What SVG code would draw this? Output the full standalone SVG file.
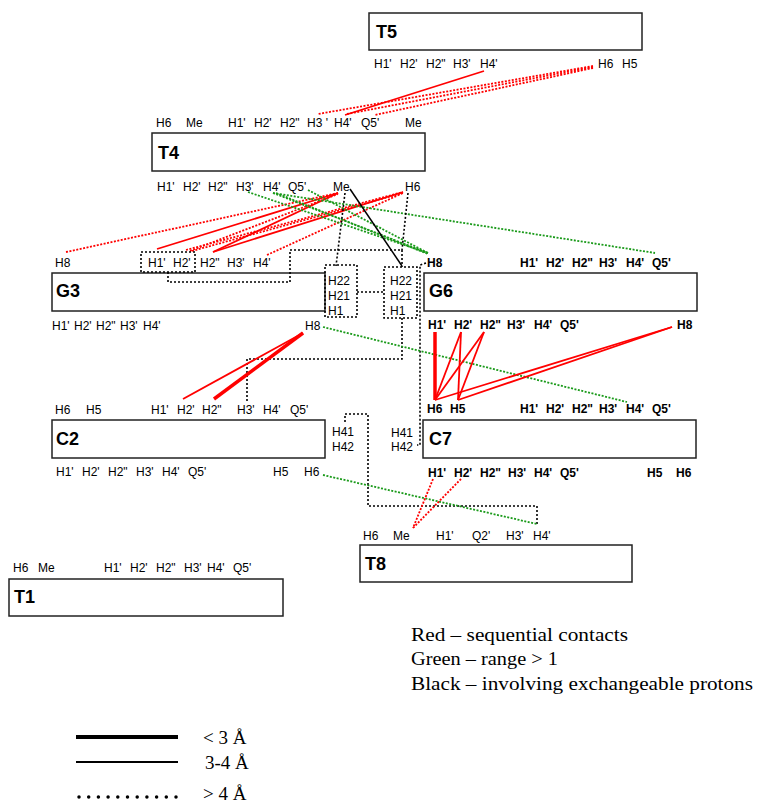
<svg xmlns="http://www.w3.org/2000/svg" width="757" height="805" viewBox="0 0 757 805">
<style>
.lb{font-family:"Liberation Sans",Arial,sans-serif;font-size:12px;fill:#000}
.lbb{font-family:"Liberation Sans",Arial,sans-serif;font-size:12px;font-weight:bold;fill:#000}
.ttl{font-family:"Liberation Sans",Arial,sans-serif;font-size:18px;font-weight:bold;fill:#000}
.box{fill:#fff;stroke:#222;stroke-width:1.5}
.leg{font-family:"Liberation Serif","Times New Roman",serif;font-size:19px;fill:#000}
.rs{stroke:#f00;stroke-width:1.8;fill:none}
.rt{stroke:#f00;stroke-width:3.5;fill:none}
.rd{stroke:#f00;stroke-width:1.8;stroke-dasharray:2 1.5;fill:none}
.gd{stroke:#1a9a1a;stroke-width:1.8;stroke-dasharray:2 1.5;fill:none}
.ks{stroke:#000;stroke-width:1.5;fill:none}
.kd{stroke:#000;stroke-width:1.6;stroke-dasharray:2 2;fill:none}
</style>
<rect width="757" height="805" fill="#fff"/>

<g id="T5">
<rect class="box" x="369" y="13" width="273" height="37"/>
<text class="ttl" x="376" y="38">T5</text>
<text class="lb" y="68"><tspan x="374">H1'</tspan><tspan x="400">H2'</tspan><tspan x="426">H2"</tspan><tspan x="453">H3'</tspan><tspan x="480">H4'</tspan><tspan x="598">H6</tspan><tspan x="622">H5</tspan></text>
</g>

<g id="T4">
<rect class="box" x="152" y="133" width="273" height="38"/>
<text class="ttl" x="158" y="159">T4</text>
<text class="lb" y="127"><tspan x="156">H6</tspan><tspan x="186">Me</tspan><tspan x="228">H1'</tspan><tspan x="254">H2'</tspan><tspan x="280">H2"</tspan><tspan x="307">H3 '</tspan><tspan x="334">H4'</tspan><tspan x="361">Q5'</tspan><tspan x="405">Me</tspan></text>
<text class="lb" y="191"><tspan x="157">H1'</tspan><tspan x="183">H2'</tspan><tspan x="208">H2"</tspan><tspan x="236">H3'</tspan><tspan x="263">H4'</tspan><tspan x="288">Q5'</tspan><tspan x="333">Me</tspan><tspan x="405">H6</tspan></text>
</g>

<g id="G3">
<rect class="box" x="52" y="273" width="273" height="38"/>
<text class="ttl" x="56" y="297">G3</text>
<text class="lb" y="267"><tspan x="55">H8</tspan><tspan x="148">H1'</tspan><tspan x="173">H2'</tspan><tspan x="200">H2"</tspan><tspan x="227">H3'</tspan><tspan x="253">H4'</tspan></text>
<text class="lb" y="330"><tspan x="52">H1'</tspan><tspan x="74">H2'</tspan><tspan x="96">H2"</tspan><tspan x="120">H3'</tspan><tspan x="143">H4'</tspan><tspan x="305">H8</tspan></text>
<text class="lb" x="328" y="285">H22</text>
<text class="lb" x="328" y="300">H21</text>
<text class="lb" x="328" y="315">H1</text>
</g>

<g id="G6">
<rect class="box" x="424" y="273" width="273" height="38"/>
<text class="ttl" x="429" y="297">G6</text>
<text class="lbb" y="267"><tspan x="427">H8</tspan><tspan x="520">H1'</tspan><tspan x="546">H2'</tspan><tspan x="572">H2"</tspan><tspan x="599">H3'</tspan><tspan x="626">H4'</tspan><tspan x="652">Q5'</tspan></text>
<text class="lbb" y="329"><tspan x="428">H1'</tspan><tspan x="454">H2'</tspan><tspan x="480">H2"</tspan><tspan x="507">H3'</tspan><tspan x="534">H4'</tspan><tspan x="560">Q5'</tspan><tspan x="677">H8</tspan></text>
<text class="lb" x="390" y="285">H22</text>
<text class="lb" x="390" y="300">H21</text>
<text class="lb" x="390" y="315">H1</text>
</g>

<g id="C2">
<rect class="box" x="52" y="420" width="273" height="38"/>
<text class="ttl" x="56" y="445">C2</text>
<text class="lb" y="414"><tspan x="55">H6</tspan><tspan x="86">H5</tspan><tspan x="151">H1'</tspan><tspan x="177">H2'</tspan><tspan x="202">H2"</tspan><tspan x="237">H3'</tspan><tspan x="263">H4'</tspan><tspan x="290">Q5'</tspan></text>
<text class="lb" y="476"><tspan x="56">H1'</tspan><tspan x="82">H2'</tspan><tspan x="108">H2"</tspan><tspan x="136">H3'</tspan><tspan x="162">H4'</tspan><tspan x="188">Q5'</tspan><tspan x="273">H5</tspan><tspan x="304">H6</tspan></text>
<text class="lb" x="332" y="436">H41</text>
<text class="lb" x="332" y="451">H42</text>
</g>

<g id="C7">
<rect class="box" x="423" y="420" width="273" height="38"/>
<text class="ttl" x="429" y="445">C7</text>
<text class="lbb" y="413"><tspan x="427">H6</tspan><tspan x="450">H5</tspan><tspan x="520">H1'</tspan><tspan x="546">H2'</tspan><tspan x="572">H2"</tspan><tspan x="599">H3'</tspan><tspan x="626">H4'</tspan><tspan x="652">Q5'</tspan></text>
<text class="lbb" y="477"><tspan x="428">H1'</tspan><tspan x="454">H2'</tspan><tspan x="480">H2"</tspan><tspan x="508">H3'</tspan><tspan x="534">H4'</tspan><tspan x="560">Q5'</tspan><tspan x="647">H5</tspan><tspan x="676">H6</tspan></text>
<text class="lb" x="391" y="437">H41</text>
<text class="lb" x="391" y="451">H42</text>
</g>

<g id="T8">
<rect class="box" x="360" y="545" width="272" height="37"/>
<text class="ttl" x="365" y="570">T8</text>
<text class="lb" y="540"><tspan x="363">H6</tspan><tspan x="393">Me</tspan><tspan x="436">H1'</tspan><tspan x="472">Q2'</tspan><tspan x="506">H3'</tspan><tspan x="533">H4'</tspan></text>
</g>

<g id="T1">
<rect class="box" x="9" y="579" width="274" height="37"/>
<text class="ttl" x="14" y="603">T1</text>
<text class="lb" y="572"><tspan x="13">H6</tspan><tspan x="38">Me</tspan><tspan x="104">H1'</tspan><tspan x="130">H2'</tspan><tspan x="156">H2"</tspan><tspan x="184">H3'</tspan><tspan x="207">H4'</tspan><tspan x="233">Q5'</tspan></text>
</g>

<g id="connectors">
<!-- T5 to T4 -->
<line class="rs" x1="484" y1="71" x2="345" y2="115"/>
<line class="rd" x1="593" y1="66" x2="318" y2="114"/>
<line class="rd" x1="593" y1="67" x2="347" y2="114"/>
<line class="rd" x1="593" y1="68" x2="375" y2="115"/>
<!-- T4 to G3 red -->
<line class="rd" x1="66" y1="252" x2="338" y2="193"/>
<line class="rs" x1="157" y1="249" x2="338" y2="193"/>
<line class="rd" x1="190" y1="251" x2="338" y2="194"/>
<line class="rs" x1="213" y1="252" x2="338" y2="193"/>
<line class="rs" x1="213" y1="252" x2="403" y2="192"/>
<line class="rd" x1="192" y1="251" x2="403" y2="193"/>
<line class="rd" x1="186" y1="250" x2="403" y2="192"/>
<line class="rd" x1="267" y1="255" x2="403" y2="193"/>
<!-- T4 to G6 green -->
<line class="gd" x1="248" y1="192" x2="428" y2="253"/>
<line class="gd" x1="273" y1="193" x2="428" y2="253"/>
<line class="gd" x1="276" y1="193" x2="428" y2="254"/>
<line class="gd" x1="308" y1="190" x2="428" y2="253"/>
<line class="gd" x1="273" y1="193" x2="655" y2="253"/>
<!-- black exchangeable -->
<line class="ks" x1="350" y1="189" x2="402" y2="266"/>
<line class="kd" x1="345" y1="193" x2="336" y2="266"/>
<line class="kd" x1="408" y1="193" x2="402" y2="250"/>
<rect class="kd" x="141" y="252" width="54" height="20"/>
<polyline class="kd" points="168,272 168,282 290,282 290,250 402,250 402,267"/>
<rect class="kd" x="325" y="265" width="32" height="52"/>
<rect class="kd" x="384" y="267" width="33" height="51"/>
<line class="kd" x1="357" y1="292" x2="384" y2="292"/>
<polyline class="kd" points="402,318 402,359 247,359 247,402"/>
<polyline class="kd" points="426,263 420,265 420,445 417,445"/>
<polyline class="kd" points="345,422 345,414 368,414 368,506 537,506 537,525"/>
<!-- G3 H8 -->
<line class="gd" x1="323" y1="327" x2="627" y2="402"/>
<line class="rs" x1="303" y1="333" x2="183" y2="399"/>
<line class="rt" x1="303" y1="333" x2="214" y2="399"/>
<!-- G6 to C7 -->
<line class="rt" x1="435" y1="332" x2="435" y2="400"/>
<line class="rs" x1="461" y1="332" x2="435" y2="400"/>
<line class="rs" x1="461" y1="332" x2="458" y2="400"/>
<line class="rs" x1="484" y1="332" x2="435" y2="400"/>
<line class="rs" x1="484" y1="332" x2="458" y2="400"/>
<line class="rs" x1="672" y1="327" x2="435" y2="400"/>
<line class="rs" x1="672" y1="327" x2="458" y2="400"/>
<!-- C2/C7 to T8 -->
<line class="gd" x1="323" y1="475" x2="537" y2="524"/>
<line class="rd" x1="433" y1="479" x2="413" y2="528"/>
<line class="rd" x1="461" y1="479" x2="413" y2="528"/>
</g>

<g id="legend">
<text class="leg" x="411" y="641" textLength="217" lengthAdjust="spacingAndGlyphs">Red – sequential contacts</text>
<text class="leg" x="411" y="665" textLength="147" lengthAdjust="spacingAndGlyphs">Green – range &gt; 1</text>
<text class="leg" x="411" y="690" textLength="342" lengthAdjust="spacingAndGlyphs">Black – involving exchangeable protons</text>
<line x1="76" y1="737" x2="178" y2="737" stroke="#000" stroke-width="4"/>
<line x1="76" y1="762" x2="178" y2="762" stroke="#000" stroke-width="2"/>
<line x1="79" y1="797" x2="176" y2="797" stroke="#000" stroke-width="3.5" stroke-linecap="round" stroke-dasharray="0 9.7"/>
<text class="leg" x="203" y="744">&lt; 3 Å</text>
<text class="leg" x="205" y="769">3-4 Å</text>
<text class="leg" x="203" y="800">&gt; 4 Å</text>
</g>
</svg>
